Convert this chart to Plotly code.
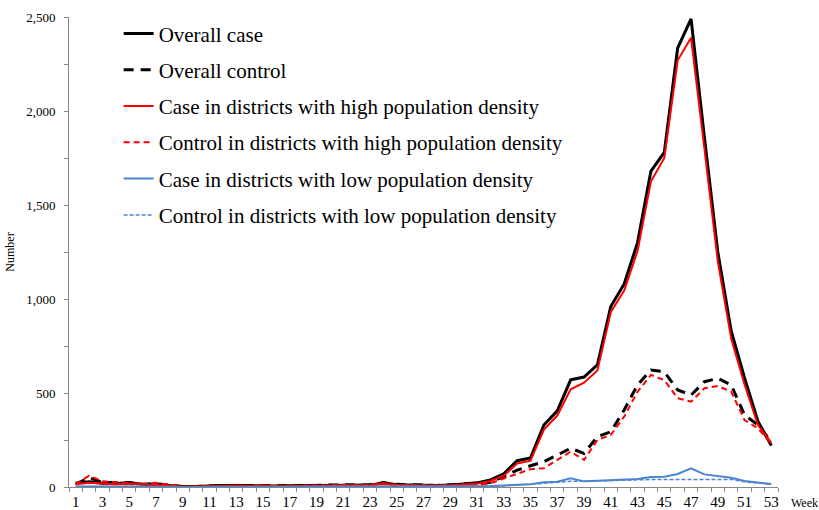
import plotly.graph_objects as go

weeks = list(range(1, 54))

overall_case = [20, 28, 20, 18, 22, 15, 12, 8, 2, 2, 6, 8, 8, 6, 8, 5, 6, 6, 8, 8,
                10, 8, 10, 22, 12, 10, 8, 8, 10, 15, 22, 38, 70, 140, 155, 330, 405, 570, 585, 650,
                960, 1080, 1300, 1680, 1780, 2335, 2490, 1860, 1250, 830, 580, 350, 220]
overall_control = [15, 50, 25, 25, 22, 15, 18, 10, 2, 2, 6, 8, 8, 6, 8, 6, 6, 6, 8, 10,
                   12, 10, 12, 22, 14, 12, 10, 8, 12, 18, 15, 25, 55, 90, 113, 135, 170, 206, 179, 268,
                   294, 410, 543, 622, 613, 516, 489, 560, 578, 543, 383, 330, 241]
case_high = [15, 22, 18, 15, 18, 12, 10, 6, 1, 2, 5, 6, 7, 5, 7, 4, 5, 5, 7, 7,
             9, 7, 9, 18, 10, 8, 7, 7, 8, 12, 18, 32, 60, 125, 140, 305, 380, 520, 555, 620,
             930, 1045, 1255, 1625, 1750, 2270, 2390, 1800, 1200, 790, 545, 330, 235]
control_high = [15, 60, 30, 25, 20, 15, 22, 10, 1, 2, 5, 7, 7, 5, 7, 5, 5, 5, 7, 9,
                11, 9, 11, 20, 12, 10, 9, 7, 10, 15, 13, 20, 45, 70, 95, 100, 144, 188, 144, 250,
                277, 374, 507, 596, 569, 472, 454, 525, 537, 507, 356, 312, 232]
case_low = [2, 3, 2, 2, 2, 2, 1, 1, 0, 0, 1, 1, 1, 1, 1, 1, 1, 1, 1, 1,
            1, 1, 1, 2, 1, 1, 1, 1, 2, 3, 4, 5, 8, 12, 15, 25, 28, 46, 30, 33,
            37, 40, 42, 53, 55, 69, 99, 67, 60, 49, 32, 23, 16]
control_low = [2, 3, 2, 2, 2, 2, 1, 1, 0, 0, 1, 1, 1, 1, 1, 1, 1, 1, 1, 1,
               1, 1, 1, 2, 1, 1, 1, 1, 2, 3, 3, 4, 6, 10, 12, 20, 25, 30, 30, 32,
               35, 38, 40, 40, 40, 40, 40, 40, 42, 40, 28, 20, 14]

series = [
    ("Overall case", overall_case, "#000000", 3, "solid"),
    ("Overall control", overall_control, "#000000", 3, "10px,7px"),
    ("Case in districts with high population density", case_high, "#FF0000", 2, "solid"),
    ("Control in districts with high population density", control_high, "#FF0000", 2, "6px,4px"),
    ("Case in districts with low population density", case_low, "#4A86D0", 2, "solid"),
    ("Control in districts with low population density", control_low, "#4A86D0", 1.5, "4px,2px"),
]

SERIF = "Liberation Serif, Times New Roman, serif"

fig = go.Figure()
for i, (name, vals, color, width, dash) in enumerate(series):
    fig.add_trace(go.Scatter(
        x=weeks, y=vals, name=name, mode="lines", legendgroup=f"g{i}",
        line=dict(color=color, width=width, dash=dash),
    ))

axis_color = "#868686"
fig.update_layout(
    width=819, height=510,
    margin=dict(l=69, r=41, t=17, b=23),
    plot_bgcolor="white", paper_bgcolor="white",
    font=dict(family=SERIF, color="#000000"),
    showlegend=True,
    legend=dict(
        x=0.07, y=1.008, xanchor="left", yanchor="top",
        font=dict(family=SERIF, size=21, color="#000000"),
        bgcolor="rgba(0,0,0,0)", tracegroupgap=6,
    ),
    xaxis=dict(
        range=[0.5, 53.5], tickmode="linear", tick0=1, dtick=2,
        ticks="", showline=True, linecolor=axis_color, linewidth=1,
        showgrid=False, zeroline=False, ticklabelstandoff=1, automargin=False,
        tickfont=dict(family=SERIF, size=15, color="#000000"),
        minor=dict(tick0=0.5, dtick=1, ticks="outside", ticklen=4,
                   tickcolor=axis_color, showgrid=False),
    ),
    yaxis=dict(
        range=[0, 2500], tickmode="linear", tick0=0, dtick=500, tickformat=",",
        ticks="outside", ticklen=4, tickcolor=axis_color,
        showline=True, linecolor=axis_color, linewidth=1,
        showgrid=False, zeroline=False, ticklabelstandoff=6, automargin=False,
        tickfont=dict(family=SERIF, size=13, color="#000000"),
        minor=dict(dtick=250, ticks="outside", ticklen=4, tickcolor=axis_color, showgrid=False),
        title=dict(text="Number", font=dict(family=SERIF, size=12), standoff=8),
    ),
    annotations=[
        dict(text="Week", xref="paper", yref="paper", x=1.015, y=-0.035,
             xanchor="left", yanchor="middle", showarrow=False,
             font=dict(family=SERIF, size=12, color="#000000")),
    ],
)

fig.write_html("out.html")
